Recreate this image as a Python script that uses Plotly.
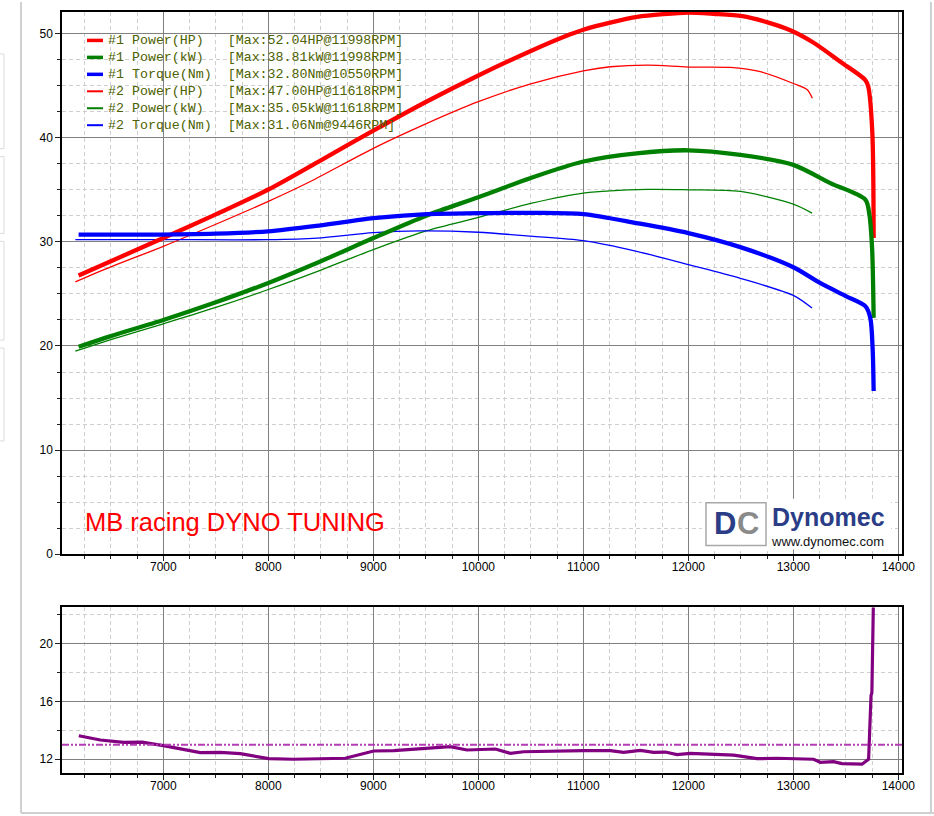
import plotly.graph_objects as go

# ---------------- data ----------------
rpm_hp1 = [6193, 6500, 7000, 7500, 8000, 8500, 9000, 9500, 10000, 10500, 10876, 11000, 11257,
           11514, 11762, 11998, 12238, 12514, 12762, 12971, 13190, 13448, 13686, 13714, 13752, 13765]
hp1 = [26.77, 28.15, 30.37, 32.65, 35.04, 37.85, 40.7, 43.45, 46.0, 48.35, 49.95, 50.4, 51.08,
       51.63, 51.89, 52.04, 51.92, 51.7, 51.08, 50.35, 49.17, 47.32, 45.56, 44.92, 40.6, 30.37]

rpm_kw1 = [6193, 6500, 7000, 7500, 8000, 8500, 9000, 9510, 10000, 10500, 11000, 11508, 11998,
           12495, 13000, 13352, 13686, 13724, 13750, 13765]
kw1 = [19.92, 20.95, 22.5, 24.2, 26.06, 28.15, 30.37, 32.55, 34.3, 36.15, 37.73, 38.52, 38.81,
       38.37, 37.41, 35.65, 34.06, 32.65, 29.42, 22.7]

rpm_tq1 = [6193, 6876, 7500, 8000, 8500, 9000, 9510, 10000, 10550, 11000, 11508, 12000, 12495, 13000,
           13254, 13500, 13686, 13733, 13755, 13765]
tq1 = [30.7, 30.7, 30.8, 31.02, 31.6, 32.29, 32.68, 32.76, 32.80, 32.68, 31.81, 30.85, 29.5, 27.57,
       26.06, 24.8, 23.83, 22.7, 19.83, 15.68]

rpm_hp2 = [6162, 6500, 7000, 7500, 8000, 8400, 9000, 9500, 10000, 10500, 11000, 11257, 11618, 12000,
           12400, 12686, 13000, 13133, 13181]
hp2 = [26.16, 27.6, 29.58, 31.7, 33.9, 35.81, 39.0, 41.35, 43.48, 45.2, 46.45, 46.84, 47.00, 46.81,
       46.77, 46.36, 45.23, 44.63, 43.8]

rpm_kw2 = [6162, 6500, 7000, 7500, 8000, 8500, 9000, 9510, 10000, 10500, 11000, 11618, 12000, 12495,
           13000, 13178]
kw2 = [19.51, 20.6, 22.13, 23.7, 25.43, 27.3, 29.26, 31.08, 32.35, 33.7, 34.69, 35.05, 35.01, 34.85,
       33.63, 32.77]

rpm_tq2 = [6162, 7000, 8000, 8464, 9000, 9446, 10000, 10500, 11000, 11508, 12000, 12495, 13000, 13178]
tq2 = [30.22, 30.22, 30.22, 30.37, 30.9, 31.06, 30.93, 30.55, 30.12, 29.1, 27.82, 26.5, 24.86, 23.64]

rpm_afr = [6195, 6400, 6622, 6797, 7000, 7352, 7543, 7733, 8003, 8241, 8733, 9003, 9194, 9511, 9733,
           9892, 10162, 10305, 10432, 11003, 11257, 11384, 11543, 11670, 11781, 11892, 12019, 12432,
           12654, 12844, 13193, 13257, 13384, 13463, 13654, 13717, 13727, 13740, 13748, 13762]
afr = [13.63, 13.33, 13.17, 13.19, 12.94, 12.46, 12.48, 12.39, 12.04, 12.0, 12.07, 12.57, 12.6, 12.76,
       12.87, 12.64, 12.71, 12.41, 12.52, 12.6, 12.6, 12.48, 12.62, 12.48, 12.5, 12.32, 12.4, 12.28,
       12.04, 12.07, 12.0, 11.79, 11.83, 11.7, 11.66, 12.0, 14.7, 16.4, 16.6, 22.6]
afr_target = 13.0

x_ticks = [7000, 8000, 9000, 10000, 11000, 12000, 13000, 14000]
title_text = "MB racing DYNO TUNING"

RED, GREEN, BLUE, PURPLE = "#FF0000", "#008000", "#0000FF", "#800080"

# ---------------- layout helpers (pixel -> paper) ----------------
L, R, T, B = 62, 902, 10, 773
def PX(px):
    return (px - L) / (R - L)
def PY(py):
    return (B - py) / (B - T)

fig = go.Figure()

series = [
    ("#2 Power(HP)", rpm_hp2, hp2, RED, 1.3),
    ("#2 Power(kW)", rpm_kw2, kw2, GREEN, 1.3),
    ("#2 Torque(Nm)", rpm_tq2, tq2, BLUE, 1.3),
    ("#1 Power(HP)", rpm_hp1, hp1, RED, 4.3),
    ("#1 Power(kW)", rpm_kw1, kw1, GREEN, 4.3),
    ("#1 Torque(Nm)", rpm_tq1, tq1, BLUE, 4.3),
]
for name, xs, ys, col, w in series:
    fig.add_trace(go.Scatter(x=xs, y=ys, mode="lines", name=name,
                             line=dict(color=col, width=w, shape="spline", smoothing=0.8),
                             xaxis="x", yaxis="y", showlegend=False, hoverinfo="skip"))

fig.add_trace(go.Scatter(x=rpm_afr, y=afr, mode="lines", name="AFR",
                         line=dict(color=PURPLE, width=3.2), xaxis="x2", yaxis="y2",
                         showlegend=False, hoverinfo="skip"))

tickfont = dict(family="Liberation Sans, Arial, sans-serif", size=12, color="#000")
def xax(anchor):
    return dict(range=[6035, 14035], anchor=anchor, tickvals=x_ticks, tickformat="d",
                ticks="outside", ticklen=5, ticklabelstandoff=-4,
                tickcolor="#222", showgrid=True, gridcolor="#808080", gridwidth=1,
                minor=dict(dtick=250, tick0=0, ticks="outside", ticklen=3, tickcolor="#222",
                           showgrid=True, gridcolor="#cfcfcf", griddash="4px,3px", gridwidth=1),
                showline=True, linecolor="#000", linewidth=1.5, mirror=True, zeroline=False,
                tickfont=tickfont, fixedrange=True)

def yax(domain, rng, dtick, mdtick, anchor):
    return dict(domain=domain, range=rng, anchor=anchor, dtick=dtick, tick0=0, ticks="outside",
                ticklen=5, tickcolor="#222", showgrid=True, gridcolor="#808080", gridwidth=1,
                minor=dict(dtick=mdtick, tick0=0, ticks="outside", ticklen=3, tickcolor="#222",
                           showgrid=True, gridcolor="#cfcfcf", griddash="4px,3px", gridwidth=1),
                showline=True, linecolor="#000", linewidth=1.5, mirror=True, zeroline=False,
                tickfont=tickfont, fixedrange=True)

shapes = []
# target AFR dash-dot line
shapes.append(dict(type="line", xref="x2 domain", yref="y2", x0=0, x1=1, y0=afr_target, y1=afr_target,
                   line=dict(color="#B43CB4", width=2, dash="7px,2px,2px,2px,2px,2px"), layer="above"))

# window/panel decorations
gray = "#d0d0d0"
shapes.append(dict(type="line", xref="paper", yref="paper", x0=PX(21), x1=PX(21), y0=PY(0), y1=PY(813),
                   line=dict(color=gray, width=2)))
shapes.append(dict(type="line", xref="paper", yref="paper", x0=PX(931), x1=PX(931), y0=PY(0), y1=PY(813),
                   line=dict(color=gray, width=2)))
shapes.append(dict(type="line", xref="paper", yref="paper", x0=PX(21), x1=PX(934), y0=PY(813), y1=PY(813),
                   line=dict(color=gray, width=2)))
for y0, y1 in [(52, 147), (155, 232), (240, 339), (347, 440)]:
    shapes.append(dict(type="rect", xref="paper", yref="paper", x0=PX(-3), x1=PX(4), y0=PY(y0), y1=PY(y1),
                       line=dict(color="#dcdcdc", width=1), fillcolor="rgba(0,0,0,0)"))

# logo background and frame
shapes.append(dict(type="rect", xref="paper", yref="paper", x0=PX(702), x1=PX(891), y0=PY(498), y1=PY(549),
                   line=dict(width=0), fillcolor="#ffffff", layer="above"))
shapes.append(dict(type="rect", xref="paper", yref="paper", x0=PX(706), x1=PX(766), y0=PY(502), y1=PY(545),
                   line=dict(color="#a8a8a8", width=1.5), fillcolor="#ffffff", layer="above"))

annotations = []
# custom legend
legend_rows = [
    ("#1 Power(HP)", hp1, rpm_hp1, "HP", RED, 3.5),
    ("#1 Power(kW)", kw1, rpm_kw1, "kW", GREEN, 3.5),
    ("#1 Torque(Nm)", tq1, rpm_tq1, "Nm", BLUE, 3.5),
    ("#2 Power(HP)", hp2, rpm_hp2, "HP", RED, 2),
    ("#2 Power(kW)", kw2, rpm_kw2, "kW", GREEN, 2),
    ("#2 Torque(Nm)", tq2, rpm_tq2, "Nm", BLUE, 2),
]
for i, (name, ys, xs, unit, col, w) in enumerate(legend_rows):
    yc = 38.5 + 17 * i
    m = max(ys)
    r = xs[ys.index(m)]
    label = name.ljust(15) + "[Max:%.2f%s@%dRPM]" % (m, unit, r)
    label = label.replace(" ", "\u00a0")
    shapes.append(dict(type="line", xref="paper", yref="paper", x0=PX(87), x1=PX(103), y0=PY(yc), y1=PY(yc),
                       line=dict(color=col, width=w), layer="above"))
    annotations.append(dict(xref="paper", yref="paper", x=PX(106), y=PY(yc), xanchor="left", yanchor="middle",
                            text=label, showarrow=False,
                            font=dict(family="Liberation Mono, Courier New, monospace", size=13.3,
                                      color="#4d6200")))

annotations.append(dict(xref="paper", yref="paper", x=PX(83), y=PY(521), xanchor="left", yanchor="middle",
                        text=title_text, showarrow=False,
                        font=dict(family="Liberation Sans, Arial, sans-serif", size=25.5, color="#FF0000")))

# Dynomec logo
logo_font = "Liberation Sans, Arial, sans-serif"
annotations.append(dict(xref="paper", yref="paper", x=PX(725), y=PY(523), xanchor="center", yanchor="middle",
                        text="<b>D</b>", showarrow=False,
                        font=dict(family=logo_font, size=31, color="#2a3d86")))
annotations.append(dict(xref="paper", yref="paper", x=PX(748), y=PY(523), xanchor="center", yanchor="middle",
                        text="<b>C</b>", showarrow=False,
                        font=dict(family=logo_font, size=31, color="#8a8a8a")))
annotations.append(dict(xref="paper", yref="paper", x=PX(828), y=PY(516), xanchor="center", yanchor="middle",
                        text="<b>Dynomec</b>", showarrow=False,
                        font=dict(family=logo_font, size=25, color="#2a3d86")))
annotations.append(dict(xref="paper", yref="paper", x=PX(827), y=PY(541), xanchor="center", yanchor="middle",
                        text="www.dynomec.com", showarrow=False,
                        font=dict(family=logo_font, size=13, color="#111")))

fig.update_layout(
    width=934, height=816,
    margin=dict(l=L, r=934 - R, t=T, b=816 - B, pad=0),
    paper_bgcolor="#ffffff", plot_bgcolor="#ffffff",
    xaxis=xax("y"),
    yaxis=yax([PY(553.5) - PY(B), 1], [0, 52.1], 10, 2.5, "x"),
    xaxis2=xax("y2"),
    yaxis2=yax([0, PY(607)], [11.05, 22.5], 4, 2, "x2"),
    shapes=shapes, annotations=annotations, showlegend=False,
)

fig.write_html("out.html")
